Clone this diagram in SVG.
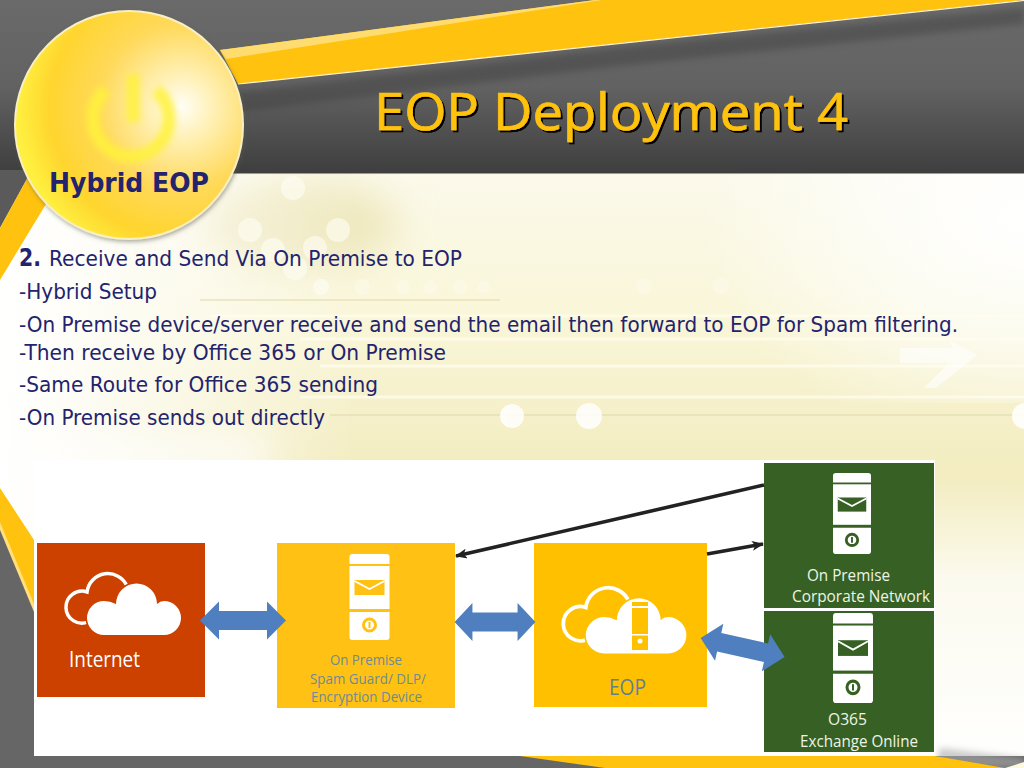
<svg xmlns="http://www.w3.org/2000/svg" xmlns:xlink="http://www.w3.org/1999/xlink" width="1024" height="768" viewBox="0 0 1024 768">
<style>
.body{font-family:"DejaVu Sans","Liberation Sans",sans-serif;font-size:22px;fill:#23236e}
.lab{font-family:"Open Sans","Liberation Sans",sans-serif;font-weight:400}
.g{font-size:17px;fill:#eef4e6}
.s{font-size:15px;fill:#6f8a92}
.line{stroke:#222;stroke-width:3.6;fill:none}
.blue{fill:#4f7fbf}
.hl{stroke:#fffef0;fill:none;opacity:.7}
.dl{stroke:#dfd8a8;fill:none;stroke-width:1}
</style>
<defs>
<linearGradient id="hdr" x1="0" y1="0" x2="0" y2="1"><stop offset="0" stop-color="#6a6a6a"/><stop offset=".5" stop-color="#626262"/><stop offset="1" stop-color="#3e3e3e"/></linearGradient>
<linearGradient id="bgv" x1="0" y1="0" x2="0" y2="1"><stop offset="0" stop-color="#fbf9ea"/><stop offset=".25" stop-color="#f9f6d8"/><stop offset=".48" stop-color="#f3edc2"/><stop offset="1" stop-color="#f1ebba"/></linearGradient>
<linearGradient id="bgl" x1="0" y1="0" x2="1" y2="0"><stop offset="0" stop-color="#fff"/><stop offset=".06" stop-color="#fff" stop-opacity=".85"/><stop offset=".35" stop-color="#fff" stop-opacity="0"/></linearGradient>
<radialGradient id="bgr" cx="1" cy=".2" r="1"><stop offset="0" stop-color="#fff"/><stop offset=".5" stop-color="#fff" stop-opacity=".6"/><stop offset="1" stop-color="#fff" stop-opacity="0"/></radialGradient>
<linearGradient id="bgb" x1="0" y1="0" x2="0" y2="1"><stop offset="0" stop-color="#fff" stop-opacity="0"/><stop offset=".35" stop-color="#fff" stop-opacity=".75"/><stop offset="1" stop-color="#fff"/></linearGradient>
<radialGradient id="ball" cx=".73" cy=".42" r=".72"><stop offset="0" stop-color="#fffef6"/><stop offset=".2" stop-color="#fff0b4"/><stop offset=".5" stop-color="#ffd95a"/><stop offset=".8" stop-color="#ffd52e"/><stop offset="1" stop-color="#fff040"/></radialGradient>
<filter id="bl" x="-30%" y="-30%" width="160%" height="160%"><feGaussianBlur stdDeviation="3"/></filter>
<filter id="bl2" x="-30%" y="-30%" width="160%" height="160%"><feGaussianBlur stdDeviation="18"/></filter>
<filter id="ts" x="-5%" y="-10%" width="110%" height="125%"><feDropShadow dx="2" dy="2" stdDeviation=".4" flood-color="#000"/></filter>
<filter id="cs" x="-10%" y="-10%" width="120%" height="120%"><feDropShadow dx="1" dy="2" stdDeviation="2" flood-color="#554" flood-opacity=".5"/></filter>
<marker id="ah" viewBox="0 0 12 10" refX="11" refY="5" markerWidth="12" markerHeight="10" markerUnits="userSpaceOnUse" orient="auto"><path d="M0 0L12 5L0 10L3 5Z" fill="#222"/></marker>
<path id="dbl" d="M-43 0L-24 -19V-9.500H24V-19L43 0L24 19V9.500H-24V19Z"/>
<g id="cloud">
<path d="M88 622A16 16 0 1 1 87 592A21 21 0 0 1 127 586" fill="none" stroke="#fff" stroke-width="3.500"/>
<path d="M104 635A17 17 0 0 1 104 601Q110 601 116 604A20.500 20.500 0 0 1 157 604Q160 601 164 601A17 17 0 0 1 164 635Z" fill="#fff" stroke="currentColor" stroke-width="3" paint-order="stroke"/>
</g>
<g id="device">
<path d="M0 10V3Q0 0 3 0H37Q40 0 40 3V10Z" fill="#fff"/>
<rect x="0" y="12" width="40" height="43" fill="#fff"/>
<path d="M0 58H40V83Q40 86 37 86H3Q0 86 0 83Z" fill="#fff"/>
<rect x="5" y="26" width="30" height="15" fill="currentColor"/>
<path d="M5 27L20 35L35 27" fill="none" stroke="#fff" stroke-width="1.800"/>
<circle cx="20" cy="71" r="6" fill="#fff" stroke="currentColor" stroke-width="3"/>
<rect x="19" y="68" width="2" height="6" fill="currentColor"/>
</g>
</defs>

<g id="background">
<rect x="0" y="173" width="1024" height="595" fill="url(#bgv)"/>
<ellipse cx="300" cy="225" rx="100" ry="45" fill="#efe9c0" filter="url(#bl2)"/>
<rect x="0" y="173" width="1024" height="595" fill="url(#bgl)"/>
<rect x="700" y="173" width="324" height="230" fill="url(#bgr)"/>
<rect x="935" y="480" width="89" height="288" fill="url(#bgb)"/>
<rect x="20" y="435" width="250" height="40" fill="#fff" opacity=".7" filter="url(#bl2)"/>
<path class="dl" d="M200 300H500M330 415H1024"/>
<path class="hl" stroke-width="3" d="M210 316H1024M300 339H1024M320 366H1024M300 397H1024"/>
<g fill="#fffef5" opacity=".6">
<circle cx="293" cy="188" r="12"/><circle cx="250" cy="230" r="12"/><circle cx="338" cy="230" r="12"/>
<circle cx="273" cy="250" r="12"/><circle cx="315" cy="248" r="12"/><circle cx="295" cy="268" r="12"/>
<circle cx="321" cy="287" r="8"/></g>
<g fill="#fffef5" opacity=".35">
<circle cx="362" cy="287" r="8"/><circle cx="403" cy="287" r="7"/><circle cx="430" cy="287" r="7"/><circle cx="460" cy="287" r="7"/><circle cx="484" cy="287" r="6"/>
<circle cx="644" cy="286" r="8"/><circle cx="721" cy="286" r="8"/>
</g>
<g fill="#fff" opacity=".85"><circle cx="512" cy="416" r="12"/><circle cx="589" cy="416" r="13"/><circle cx="1025" cy="416" r="13"/></g>
<path d="M900 348H953L948 340L977 355L936 388H924L949 363H900Z" fill="#fff" opacity=".6"/>
</g>

<g id="frame">
<rect x="0" y="0" width="1024" height="173.500" fill="url(#hdr)"/>
<path d="M0 170H28V177L0 228Z" fill="#5a5a5a"/>
<path d="M238 92L620 48L1024 8V24L620 66L238 112Z" fill="#3a3a3a" opacity=".4" filter="url(#bl)"/>
<path d="M220 50L595 0H1024L238 84Z" fill="#ffc20e"/>
<path d="M220 50L595 0H602L226 59Z" fill="#ffdc70"/>
<path d="M238 84L1024 0.500" stroke="#fff3cc" stroke-width="1.200" fill="none"/>
<path d="M28 177L46 204L0 280V228Z" fill="#ffc20e"/>
<path d="M0 488L34 540V612L0 530Z" fill="#ffc20e"/>
<path d="M0 530L34 612V604L0 522Z" fill="#ffdf7e"/>
<path d="M0 530L34 612V768H0Z" fill="#666"/>
<rect x="0" y="756" width="1024" height="12" fill="#666"/>
<path d="M940 748L1024 758V768H935Z" fill="#aaa" opacity=".6" filter="url(#bl)"/>
<path d="M520 756H935L1005 768H605Z" fill="#ffc20e"/>
<path d="M1005 768H1024V762Z" fill="#fdf9e0"/>
</g>

<g id="badge">
<circle cx="129" cy="125" r="114" fill="url(#ball)" stroke="#f8efc4" stroke-width="2" filter="url(#cs)"/>
<g fill="none" stroke="#fff23a" stroke-width="13" opacity=".85" filter="url(#bl)"><path d="M156 90A38 38 0 1 1 106 90"/><path d="M133 74V122"/></g>
<text x="49" y="192" font-family="'DejaVu Sans','Liberation Sans',sans-serif" font-weight="700" font-size="27" fill="#23236e" textLength="160" lengthAdjust="spacingAndGlyphs">Hybrid EOP</text>
</g>

<text id="title" x="374" y="130" font-family="'Open Sans',Lato,sans-serif" font-size="52" fill="#ffc20e" stroke="#ffc20e" stroke-width=".7" filter="url(#ts)" textLength="474" lengthAdjust="spacingAndGlyphs">EOP Deployment 4</text>

<g id="bullets">
<text class="body" x="19" y="266" font-weight="700" style="font-size:25px" textLength="22" lengthAdjust="spacingAndGlyphs">2.</text>
<text class="body" x="49" y="266" textLength="413" lengthAdjust="spacingAndGlyphs">Receive and Send Via On Premise to EOP</text>
<text class="body" x="19" y="299" textLength="138" lengthAdjust="spacingAndGlyphs">-Hybrid Setup</text>
<text class="body" x="19" y="332" textLength="939" lengthAdjust="spacingAndGlyphs">-On Premise device/server receive and send the email then forward to EOP for Spam filtering.</text>
<text class="body" x="19" y="359.500" textLength="427" lengthAdjust="spacingAndGlyphs">-Then receive by Office 365 or On Premise</text>
<text class="body" x="19" y="392" textLength="359" lengthAdjust="spacingAndGlyphs">-Same Route for Office 365 sending</text>
<text class="body" x="19" y="425" textLength="306" lengthAdjust="spacingAndGlyphs">-On Premise sends out directly</text>
</g>

<rect id="panel" x="34" y="460" width="901" height="296" fill="#fff"/>

<g id="node-internet" color="#cc4000">
<rect x="37" y="543" width="168" height="154" fill="#cc4000"/>
<use xlink:href="#cloud" href="#cloud"/>
<text class="lab" x="69" y="667" font-size="21" fill="#fff" textLength="71" lengthAdjust="spacingAndGlyphs">Internet</text>
</g>

<g id="node-spam" color="#ffc214">
<rect x="277" y="543" width="178" height="165" fill="#ffc214"/>
<use xlink:href="#device" href="#device" transform="translate(349.500 554)"/>
<text class="lab s" x="330" y="665" textLength="72" lengthAdjust="spacingAndGlyphs">On Premise</text>
<text class="lab s" x="310" y="684" textLength="116" lengthAdjust="spacingAndGlyphs">Spam Guard/ DLP/</text>
<text class="lab s" x="311" y="702" textLength="111" lengthAdjust="spacingAndGlyphs">Encryption Device</text>
</g>

<g id="node-eop" color="#ffc000">
<rect x="534" y="543" width="173" height="164" fill="#ffc000"/>
<use xlink:href="#cloud" href="#cloud" transform="translate(492.700 -26) scale(1.070)"/>
<rect x="632" y="602" width="16" height="48" fill="#ffc000"/>
<rect x="632" y="606" width="16" height="2" fill="#fff"/>
<rect x="632" y="634" width="16" height="1.500" fill="#fff"/>
<circle cx="640" cy="641" r="2.500" fill="#fff"/>
<text class="lab" x="609" y="695" font-size="22" fill="#5f7f94" textLength="37" lengthAdjust="spacingAndGlyphs">EOP</text>
</g>

<g id="node-corp" color="#376124">
<rect x="764" y="463" width="170" height="145" fill="#376124"/>
<use xlink:href="#device" href="#device" transform="translate(833 473) scale(.95 .942)"/>
<text class="lab g" x="807" y="581" textLength="83" lengthAdjust="spacingAndGlyphs">On Premise</text>
<text class="lab g" x="792" y="602" textLength="138" lengthAdjust="spacingAndGlyphs">Corporate Network</text>
</g>

<g id="node-o365" color="#376124">
<rect x="764" y="611" width="170" height="141" fill="#376124"/>
<use xlink:href="#device" href="#device" transform="translate(833 613) scale(1 1.047)"/>
<text class="lab g" x="828" y="725" textLength="39" lengthAdjust="spacingAndGlyphs">O365</text>
<text class="lab g" x="800" y="747" textLength="118" lengthAdjust="spacingAndGlyphs">Exchange Online</text>
</g>

<g id="connectors">
<path class="line" d="M764 485L456 556" marker-end="url(#ah)"/>
<path class="line" d="M707 554L763 544" marker-end="url(#ah)"/>
<use class="blue" xlink:href="#dbl" href="#dbl" transform="translate(243 620.500)"/>
<use class="blue" xlink:href="#dbl" href="#dbl" transform="translate(495 622) scale(.94 1)"/>
<use class="blue" xlink:href="#dbl" href="#dbl" transform="translate(742.600 647.500) rotate(12.700)"/>
</g>
</svg>
